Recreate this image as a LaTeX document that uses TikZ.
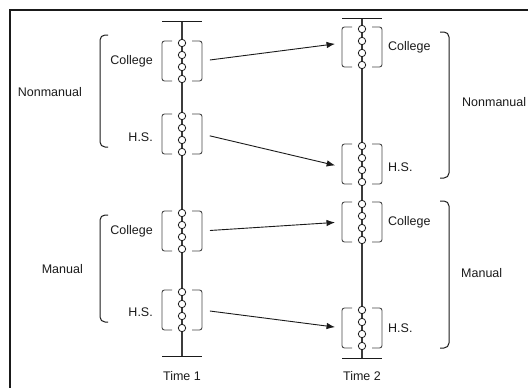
\documentclass[tikz,border=0pt]{standalone}
\usepackage{fontspec}
\setmainfont{Liberation Sans}
\usepackage{tikz}
\usetikzlibrary{arrows.meta,positioning,calc}
\usepackage{xcolor}
\definecolor{ink}{HTML}{1A1A1A}
\tikzset{
  >={Latex[length=8.5pt,width=6.5pt]},
  every node/.style={font=\fontsize{12.5}{14}\selectfont,text=ink},
  frame/.style={draw=ink,line width=1.2pt},
  axis/.style={draw=ink!85,line width=1.3pt},
  endbar/.style={draw=ink,line width=1pt},
  grp/.style={minimum width=40pt,minimum height=40pt,inner sep=0pt,outer sep=0pt},
  brk/.style={draw=ink!80,line width=0.9pt,rounded corners=2.5pt},
  bigbrk/.style={draw=ink,line width=1pt,rounded corners=5pt},
  bead/.style={draw=ink,line width=0.8pt,fill=white},
  lbl/.style={inner sep=0pt},
  move/.style={->,line width=0.9pt,draw=ink,shorten <=8pt,shorten >=7pt},
}

\begin{document}
\begin{tikzpicture}[x=1pt,y=-1pt]
  \useasboundingbox (0,0) rectangle (528,388);
  \draw[frame] (10,400) -- (10,10) -- (540,10);

  % Time axes
  \coordinate (t1top) at (182,21);
  \coordinate (t1bot) at (182,356);
  \coordinate (t2top) at (362,18);
  \coordinate (t2bot) at (362,358);
  \draw[axis] (t1top) -- (t1bot);
  \draw[axis] (t2top) -- (t2bot);
  \draw[endbar] ([xshift=-20pt]t1top) -- ([xshift=20pt]t1top);
  \draw[endbar] ([xshift=-20pt]t1bot) -- ([xshift=20pt]t1bot);
  \draw[endbar] ([xshift=-20pt]t2top) -- ([xshift=20pt]t2top);
  \draw[endbar] ([xshift=-20pt]t2bot) -- ([xshift=20pt]t2bot);
  \node[lbl] (time1) at (182,376) {Time 1};
  \node[lbl] (time2) at (362,376) {Time 2};

  % Groups
  \node[grp] (t1nc) at (182,61) {};
  \node[grp] (t1nh) at (182,134) {};
  \node[grp] (t1mc) at (182,231) {};
  \node[grp] (t1mh) at (182,310) {};
  \node[grp] (t2nc) at (362,47) {};
  \node[grp] (t2nh) at (362,164) {};
  \node[grp] (t2mc) at (362,222) {};
  \node[grp] (t2mh) at (362,328) {};
  \foreach \g in {t1nc,t1nh,t1mc,t1mh,t2nc,t2nh,t2mc,t2mh} {
    \draw[brk] ([xshift=10pt]\g.north west) -- (\g.north west) -- (\g.south west) -- ([xshift=10pt]\g.south west);
    \draw[brk] ([xshift=-10pt]\g.north east) -- (\g.north east) -- (\g.south east) -- ([xshift=-10pt]\g.south east);
    \foreach \d in {-18,-6,6,18}
      \draw[bead] ([yshift=\d pt]\g.center) circle (3.7);
  }

  % Group labels
  \node[lbl,anchor=east] (l1nc) at ([xshift=-9pt]t1nc.west) {College};
  \node[lbl,anchor=east] (l1nh) at ([xshift=-9pt,yshift=-3pt]t1nh.west) {H.S.};
  \node[lbl,anchor=east] (l1mc) at ([xshift=-9pt]t1mc.west) {College};
  \node[lbl,anchor=east] (l1mh) at ([xshift=-9pt,yshift=-2pt]t1mh.west) {H.S.};
  \node[lbl,anchor=west] (l2nc) at ([xshift=6pt]t2nc.east) {College};
  \node[lbl,anchor=west] (l2nh) at ([xshift=6pt,yshift=-3pt]t2nh.east) {H.S.};
  \node[lbl,anchor=west] (l2mc) at ([xshift=6pt]t2mc.east) {College};
  \node[lbl,anchor=west] (l2mh) at ([xshift=6pt]t2mh.east) {H.S.};

  % Class braces
  \draw[bigbrk] (108,35) -- (100,35) -- (100,147) -- (108,147);
  \draw[bigbrk] (108,215) -- (100,215) -- (100,322) -- (108,322);
  \draw[bigbrk] (440,32) -- (449,32) -- (449,178) -- (440,178);
  \draw[bigbrk] (440,201) -- (449,201) -- (449,348) -- (440,348);
  \node[lbl,anchor=east] (nm1) at (82,92) {Nonmanual};
  \node[lbl,anchor=east] (ma1) at (83,269) {Manual};
  \node[lbl,anchor=west] (nm2) at (462,102) {Nonmanual};
  \node[lbl,anchor=west] (ma2) at (461,273) {Manual};

  % Mobility
  \draw[move] (t1nc.east) -- ([yshift=4pt]t2nc.west);
  \draw[move] (t1nh.east) -- ([yshift=-3pt]t2nh.west);
  \draw[move] (t1mc.east) -- (t2mc.west);
  \draw[move] (t1mh.east) -- (t2mh.west);
\end{tikzpicture}
\end{document}
